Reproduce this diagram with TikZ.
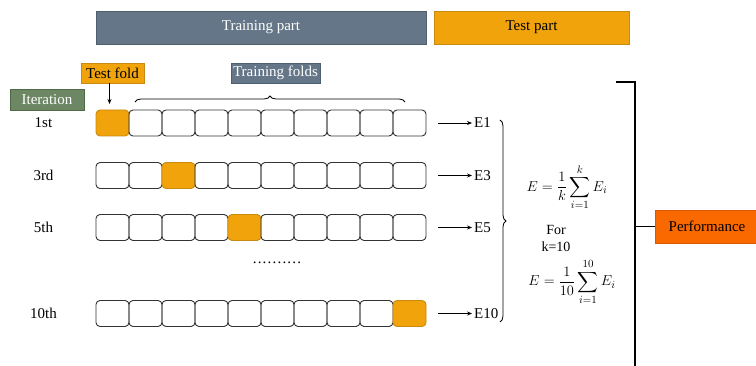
\documentclass[tikz,border=0pt]{standalone}
\usepackage{amsmath}
\usepackage{fontspec}
\setmainfont{Liberation Serif}
\usetikzlibrary{decorations.pathreplacing,arrows.meta}
\definecolor{gblue}{HTML}{647687}
\definecolor{gblueb}{HTML}{4E5F70}
\definecolor{orng}{HTML}{F0A30A}
\definecolor{orngb}{HTML}{C98A10}
\definecolor{grn}{HTML}{6D8764}
\definecolor{grnb}{HTML}{4F6A47}
\definecolor{perf}{HTML}{FA6800}
\definecolor{perfb}{HTML}{D85A00}
\begin{document}
\begin{tikzpicture}[x=1pt,y=-1pt,
  lab/.style={inner sep=0pt,font=\fontsize{15}{17}\selectfont},
  fold/.style={draw=black!80,line width=0.9pt,rounded corners=4pt,minimum width=33pt,minimum height=26pt,inner sep=0pt,outer sep=0pt},
  tfold/.style={fold,fill=orng,draw=orngb},
  hbox/.style={inner sep=0pt,outer sep=0pt,font=\fontsize{15}{17}\selectfont},
  mth/.style={inner sep=0pt,font=\fontsize{15.5}{18}\selectfont},
  arr/.style={-{Stealth[length=5pt,width=4pt]},line width=0.7pt},
  brc/.style={decorate,decoration={brace,amplitude=6pt},line width=0.8pt}
]
\useasboundingbox (0,0) rectangle (756,366);
% header bars
\node[hbox,fill=gblue,draw=gblueb,minimum width=330pt,minimum height=33pt,text=white] (train) at (261,27.5) {Training part};
\node[hbox,fill=orng,draw=orngb,minimum width=195pt,minimum height=33pt] (test) at (531.5,27.5) {Test part};
% labels
\node[hbox,fill=orng,draw=orngb,minimum width=63pt,minimum height=20pt] (tf) at (112.5,73) {Test fold};
\node[hbox,fill=gblue,draw=gblueb,minimum width=89pt,minimum height=20pt,text=white] (trf) at (275.5,73) {Training folds};
\node[hbox,fill=grn,draw=grnb,minimum width=74pt,minimum height=21pt,text=white] (it) at (47,99.5) {Iteration};
% rows
\foreach \r/\y/\t/\lbl/\e in {1/123/1/1st/E1, 3/175.5/3/3rd/E3, 5/227.5/5/5th/E5, 10/313.5/10/10th/E10}{
  \node[lab] (l\r) at (43.5,\y) {\lbl};
  \foreach \c in {1,...,10}{
    \ifnum\c=\t
      \node[tfold] (r\r c\c) at ({96+33*(\c-1)+16.5},\y) {};
    \else
      \node[fold] (r\r c\c) at ({96+33*(\c-1)+16.5},\y) {};
    \fi
  }
  \node[lab,anchor=west] (e\r) at (474,\y) {\e};
  \draw[arr] ([xshift=12pt]r\r c10.east) -- ([xshift=-2pt]e\r.west);
}
% arrow from test fold
\draw[arr] ([xshift=-3pt]tf.south) -- ([xshift=-3pt,yshift=6pt]r1c1.north);
% top brace
\draw[brc] (135,102) -- (405,102);
% dots
\node[lab] (dots) at (277,263) {\addfontfeature{LetterSpace=8}..........};
% right brace
\draw[brc] (500,120) -- (500,322);
% formulas
\node[mth] (f1) at (567,187) {$\displaystyle E=\frac{1}{k}\sum_{i=1}^{k}E_i$};
\node[lab,align=center,font=\fontsize{14}{17}\selectfont] (for) at (556,238) {For\\k=10};
\node[mth] (f2) at (572,282) {$\displaystyle E=\frac{1}{10}\sum_{i=1}^{10}E_i$};
% big bracket
\coordinate (bt) at (616,82);
\coordinate (bc) at (635,82);
\coordinate (bb) at (635,367);
\draw[line width=1.2pt] (bt) -- (bc) -- (bb);
\node[hbox,fill=perf,draw=perfb,minimum width=104pt,minimum height=33pt,anchor=west] (perf) at (655,226.5) {\hspace*{0pt}Performance};
\coordinate (pj) at (635,226.5);
\draw[line width=1.2pt] (pj) -- (perf.west);
\end{tikzpicture}
\end{document}
